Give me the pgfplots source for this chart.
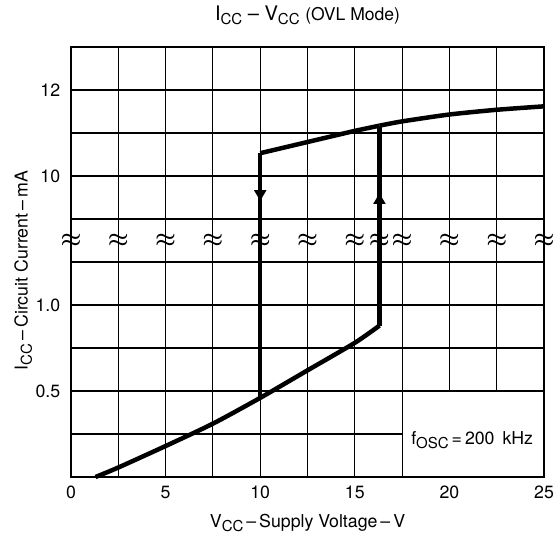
\documentclass[border=0pt]{standalone}
\usepackage{amsmath}
\usepackage{fontspec}
\setmainfont{TeX Gyre Heros}
\usepackage{pgfplots}
\pgfplotsset{compat=1.18}
\usetikzlibrary{arrows.meta}
\newcommand{\sub}[1]{\raisebox{-0.45ex}{\fontsize{7.7}{8}\selectfont #1}}
\newcommand{\lbl}{\fontsize{9.1}{10}\selectfont}
\begin{document}
\begin{tikzpicture}
\begin{axis}[
  scale only axis, width=242.6pt, height=220.5pt,
  xmin=0, xmax=25, ymin=0, ymax=10,
  xtick={0,5,...,25}, minor xtick={2.5,7.5,...,22.5},
  ytick={2,4,7,9}, yticklabels={0.5,1.0,10,12},
  minor ytick={1,3,5,6,8},
  grid=both,
  major grid style={black, line width=0.6pt},
  minor grid style={black, line width=0.6pt},
  major tick length=0pt, minor tick length=0pt,
  axis line style={line width=1pt},
  tick label style={font=\lbl},
  /pgf/number format/assume math mode=true,
  xticklabel style={yshift=-1pt},
  yticklabel style={xshift=-2pt},
  y filter/.expression={y<=1.5 ? 4*y : y-3},
  clip=false,
  xlabel={V\sub{CC}\,–\,Supply Voltage\,–\,V},
  xlabel style={font=\lbl, at={(axis description cs:0.5,0)}, anchor=center, yshift=-23.6pt},
  ylabel={I\sub{CC}\,–\,Circuit Current\,–\,mA},
  ylabel style={font=\lbl, at={(axis description cs:-0.101,0.48)}, anchor=center},
  title={I\sub{CC} – V\sub{CC} {\fontsize{9}{10}\selectfont (OVL Mode)}},
  title style={font=\fontsize{10.3}{11}\selectfont, at={(axis description cs:0.5,1)}, anchor=center, yshift=10.3pt},
]
% white box behind the frequency note
\fill[white] (axis cs:17.54,0.025) rectangle (axis cs:24.95,1.985);
\node[font=\lbl] at (axis cs:21.2,0.85) {f\sub{OSC}\,=\,200\, kHz};
% break symbols
\pgfplotsinvokeforeach{0,2.5,5,7.5,10,12.5,15,16.3,17.5,20,22.5,25}{
  \node[inner sep=0pt, font=\fontsize{12}{12}\selectfont] at (axis cs:#1,5.5) {$\boldsymbol{\approx}$};
}
% lower branch
\addplot[black, line width=2.3pt, smooth, tension=0.4] coordinates {
 (1.3,0) (2.5,0.055) (5,0.18) (7.5,0.31) (10,0.46) (12.5,0.62) (15,0.78) (16.3,0.88)
};
% upper branch
\addplot[black, line width=2.3pt, line join=round] coordinates {
 (10,10.53) (12.5,10.79) (15,11.05) (16.3,11.17)
};
\addplot[black, line width=2.3pt, smooth, tension=0.4] coordinates {
 (16.3,11.17) (17.5,11.27) (20,11.43) (22.5,11.54) (25,11.62)
};
% drop at 10 V
\addplot[black, line width=2.3pt, -{Triangle[width=6pt,length=5.5pt]}] coordinates {(10,10.53) (10,9.42)};
\addplot[black, line width=2.3pt] coordinates {(10,9.6) (10,0.46)};
% rise at 16.3 V
\addplot[black, line width=2.3pt, -{Triangle[width=6pt,length=5.5pt]}] coordinates {(16.3,0.88) (16.3,9.6)};
\addplot[black, line width=2.3pt] coordinates {(16.3,9.4) (16.3,11.17)};
\end{axis}
\pgfresetboundingbox
\path ([shift={(-36.4pt,-30.3pt)}]current axis.south west) rectangle ([shift={(5.6pt,24.1pt)}]current axis.north east);
\end{tikzpicture}
\end{document}
